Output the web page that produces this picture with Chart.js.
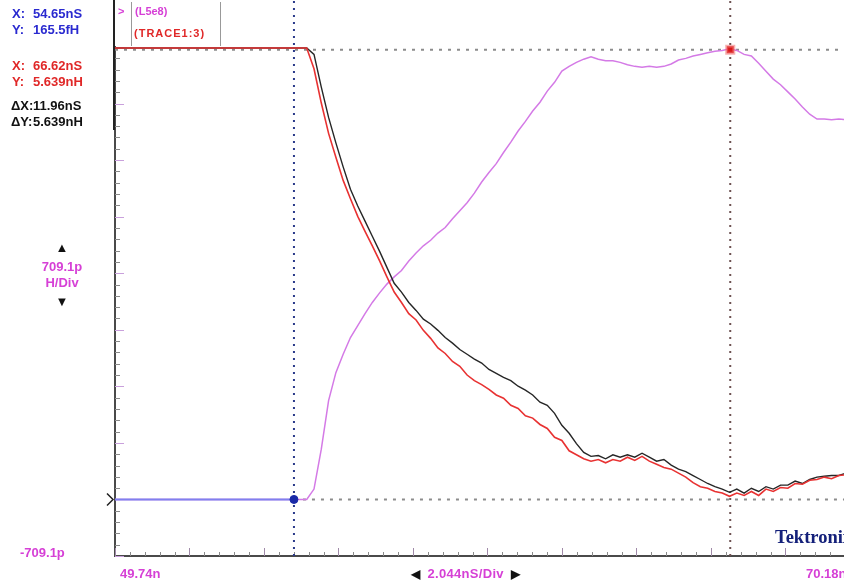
<!DOCTYPE html>
<html>
<head>
<meta charset="utf-8">
<title>TDR inductance - TRACE1:3</title>
<script src="https://cdn.jsdelivr.net/npm/chart.js@4.4.1/dist/chart.umd.min.js"></script>
<style>
  html, body { margin: 0; padding: 0; background: #fff; overflow: hidden; }
  #wrap { position: relative; width: 844px; height: 585px; overflow: hidden; background: #fff; }
  #scope { position: absolute; left: 0; top: 0; }
  .txt {
    position: absolute;
    font-family: "Liberation Sans", Arial, sans-serif;
    font-weight: bold;
    font-size: 13px;
    line-height: 15px;
    white-space: nowrap;
  }
  .blue { color: #2a2ad0; }
  .red { color: #e02828; }
  .blk { color: #111; }
  .mag { color: #d640d6; }
  .line { position: absolute; }
</style>
</head>
<body>
<div id="wrap">
  <canvas id="scope" width="870" height="585"></canvas>

  <!-- cursor readouts -->
  <div class="txt blue" style="left:12px; top:6px">X:</div>
  <div class="txt blue" style="left:33px; top:6px">54.65nS</div>
  <div class="txt blue" style="left:12px; top:22px">Y:</div>
  <div class="txt blue" style="left:33px; top:22px">165.5fH</div>
  <div class="txt red" style="left:12px; top:58px">X:</div>
  <div class="txt red" style="left:33px; top:58px">66.62nS</div>
  <div class="txt red" style="left:12px; top:74px">Y:</div>
  <div class="txt red" style="left:33px; top:74px">5.639nH</div>
  <div class="txt blk" style="left:11px; top:98px">ΔX:</div>
  <div class="txt blk" style="left:33px; top:98px">11.96nS</div>
  <div class="txt blk" style="left:11px; top:114px">ΔY:</div>
  <div class="txt blk" style="left:33px; top:114px">5.639nH</div>
  <div class="line" style="left:113px; top:0; width:2px; height:130px; background:#222"></div>

  <!-- waveform labels -->
  <div class="line" style="left:131px; top:2px; width:1px; height:44px; background:#999"></div>
  <div class="line" style="left:220px; top:2px; width:1px; height:44px; background:#999"></div>
  <div class="txt mag" style="left:118px; top:4px; font-size:11px">&gt;</div>
  <div class="txt mag" style="left:135px; top:4px; font-size:11px">(L5e8)</div>
  <div class="txt red" style="left:134px; top:26px; font-size:11px; letter-spacing:1px">(TRACE1:3)</div>

  <!-- vertical scale -->
  <div class="txt blk" style="left:30px; top:240px; width:64px; text-align:center; font-size:13px">▲</div>
  <div class="txt mag" style="left:30px; top:259px; width:64px; text-align:center">709.1p</div>
  <div class="txt mag" style="left:30px; top:275px; width:64px; text-align:center">H/Div</div>
  <div class="txt blk" style="left:30px; top:294px; width:64px; text-align:center; font-size:13px">▼</div>
  <div class="txt mag" style="left:20px; top:545px">-709.1p</div>

  <!-- horizontal scale -->
  <div class="txt mag" style="left:120px; top:566px">49.74n</div>
  <div class="txt" style="left:411px; top:566px">
    <span class="blk" style="font-size:12px">◀</span>
    <span class="mag" style="letter-spacing:0.3px">&nbsp;2.044nS/Div&nbsp;</span>
    <span class="blk" style="font-size:12px">▶</span>
  </div>
  <div class="txt mag" style="left:806px; top:566px">70.18n</div>

  <div class="txt" style="left:775px; top:527px; font-family:'Liberation Serif', 'DejaVu Serif', serif; font-size:18.5px; line-height:20px; color:#14207a">Tektronix</div>
</div>

<script>
// scope settings
const xStart = 49.74     // ns at left edge
const xPerDiv = 2.044    // ns per division
const xDivs = 10
const yPerDiv = 0.7091   // nH per division (709.1p H/Div)
const yDivsBelow = 1
const yDivsAbove = 8

// sample times (ns)
const timeNs = [49.74,
  55.0, 55.2, 55.4, 55.6, 55.8, 56.0, 56.2, 56.4, 56.6, 56.8,
  57.0, 57.2, 57.4, 57.6, 57.8, 58.0, 58.2, 58.4, 58.6, 58.8,
  59.0, 59.2, 59.4, 59.6, 59.8, 60.0, 60.2, 60.4, 60.6, 60.8,
  61.0, 61.2, 61.4, 61.6, 61.8, 62.0, 62.2, 62.4, 62.6, 62.8,
  63.0, 63.2, 63.4, 63.6, 63.8, 64.0, 64.2, 64.4, 64.6, 64.8,
  65.0, 65.2, 65.4, 65.6, 65.8, 66.0, 66.2, 66.4, 66.6, 66.8,
  67.0, 67.2, 67.4, 67.6, 67.8, 68.0, 68.2, 68.4, 68.6, 68.8,
  69.0, 69.2, 69.4, 69.6, 69.8, 70.0, 70.2]

// TRACE1:3 (red), nH
const trace13 = [5.66,
  5.66, 5.40, 4.97, 4.59, 4.29, 4.00, 3.77, 3.55, 3.36, 3.18,
  2.99, 2.79, 2.60, 2.47, 2.33, 2.25, 2.12, 2.02, 1.90, 1.83,
  1.73, 1.67, 1.56, 1.49, 1.44, 1.38, 1.31, 1.27, 1.18, 1.14,
  1.05, 1.02, 0.94, 0.89, 0.78, 0.74, 0.61, 0.56, 0.51, 0.48,
  0.50, 0.46, 0.50, 0.48, 0.53, 0.49, 0.54, 0.48, 0.44, 0.40,
  0.38, 0.33, 0.28, 0.21, 0.16, 0.14, 0.10, 0.08, 0.04, 0.08,
  0.05, 0.10, 0.05, 0.13, 0.10, 0.15, 0.14, 0.20, 0.19, 0.24,
  0.25, 0.28, 0.26, 0.30, 0.31, 0.33, 0.33]

// reference trace (black), nH
const traceRef = [5.66,
  5.66, 5.58, 5.17, 4.79, 4.47, 4.17, 3.89, 3.68, 3.49, 3.30,
  3.11, 2.91, 2.71, 2.60, 2.47, 2.37, 2.26, 2.20, 2.12, 2.03,
  1.96, 1.88, 1.82, 1.76, 1.71, 1.63, 1.58, 1.53, 1.49, 1.42,
  1.37, 1.31, 1.22, 1.18, 1.08, 0.93, 0.83, 0.70, 0.59, 0.54,
  0.55, 0.51, 0.56, 0.53, 0.56, 0.53, 0.58, 0.53, 0.48, 0.50,
  0.43, 0.38, 0.35, 0.30, 0.25, 0.20, 0.16, 0.13, 0.09, 0.13,
  0.08, 0.14, 0.10, 0.16, 0.13, 0.18, 0.18, 0.23, 0.20, 0.25,
  0.28, 0.29, 0.30, 0.30, 0.33, 0.34, 0.34]

// L5e8 (magenta), nH
const l5e8 = [0,
  0.00, 0.13, 0.63, 1.24, 1.59, 1.82, 2.03, 2.18, 2.33, 2.47,
  2.59, 2.70, 2.79, 2.87, 2.99, 3.09, 3.18, 3.25, 3.34, 3.41,
  3.52, 3.62, 3.72, 3.84, 3.98, 4.10, 4.21, 4.35, 4.48, 4.62,
  4.74, 4.87, 4.98, 5.12, 5.23, 5.37, 5.43, 5.48, 5.52, 5.55,
  5.52, 5.50, 5.50, 5.48, 5.45, 5.43, 5.42, 5.43, 5.42, 5.43,
  5.46, 5.51, 5.53, 5.56, 5.58, 5.60, 5.62, 5.63, 5.65, 5.63,
  5.58, 5.56, 5.47, 5.37, 5.27, 5.20, 5.11, 5.02, 4.92, 4.83,
  4.77, 4.77, 4.76, 4.77, 4.76, 4.77, 4.77]

// cursors
const cursorA = { x: 54.65, y: 0.0000001655 }
const cursorB = { x: 66.62, y: 5.639 }

const xMin = xStart
const xMax = xStart + xDivs * xPerDiv
const yMin = -yDivsBelow * yPerDiv
const yMax = yDivsAbove * yPerDiv
const yAboveScreen = yMax + 0.6

const toPoints = (xs, ys) => xs.map((x, i) => ({ x: x, y: ys[i] }))

// inside tick marks + ground marker, placed with the chart's own scales
const scopeTicks = {
  id: "scopeTicks",
  beforeDatasetsDraw(chart) {
    const { ctx, chartArea } = chart
    const xs = chart.scales.x
    const ys = chart.scales.y
    ctx.save()
    ctx.lineWidth = 1

    for (let i = 0; i <= (yDivsBelow + yDivsAbove) * 5; i++) {
      const py = Math.round(ys.getPixelForValue(yMin + i * yPerDiv / 5)) + 0.5
      const major = i % 5 === 0
      ctx.strokeStyle = major ? "#c9a0dc" : "#8a8a8a"
      ctx.beginPath()
      ctx.moveTo(chartArea.left, py)
      ctx.lineTo(chartArea.left + (major ? 9 : 5), py)
      ctx.stroke()
    }

    for (let i = 0; i <= xDivs * 5; i++) {
      const px = Math.round(xs.getPixelForValue(xMin + i * xPerDiv / 5)) + 0.5
      const major = i % 5 === 0
      ctx.strokeStyle = major ? "#a08aa8" : "#8a8a8a"
      ctx.beginPath()
      ctx.moveTo(px, chartArea.bottom)
      ctx.lineTo(px, chartArea.bottom - (major ? 8 : 4))
      ctx.stroke()
    }

    // ground reference chevron
    const gy = ys.getPixelForValue(0)
    ctx.strokeStyle = "#222"
    ctx.lineWidth = 1.5
    ctx.beginPath()
    ctx.moveTo(chartArea.left - 8, gy - 6)
    ctx.lineTo(chartArea.left - 2, gy)
    ctx.lineTo(chartArea.left - 8, gy + 6)
    ctx.stroke()
    ctx.restore()
  }
}

const lineDefaults = { pointRadius: 0, tension: 0, fill: false }

new Chart(document.getElementById("scope").getContext("2d"), {
  type: "line",
  data: {
    datasets: [
      {
        ...lineDefaults,
        label: "cursor 2",
        data: [cursorB],
        showLine: false,
        pointRadius: 5,
        pointStyle: "rect",
        pointBackgroundColor: "#d81818",
        pointBorderColor: "rgba(240,110,110,0.55)",
        pointBorderWidth: 3,
        clip: false
      },
      {
        ...lineDefaults,
        label: "cursor 1",
        data: [cursorA],
        showLine: false,
        pointRadius: 4,
        pointBackgroundColor: "#1a2aa8",
        pointBorderColor: "#1a2aa8",
        clip: false
      },
      {
        ...lineDefaults,
        label: "cursor 1 level",
        data: [{ x: xMin, y: cursorA.y }, { x: cursorA.x, y: cursorA.y }],
        borderColor: "#8080ee",
        borderWidth: 2
      },
      {
        ...lineDefaults,
        label: "TRACE1:3",
        data: toPoints(timeNs, trace13),
        borderColor: "#e83232",
        borderWidth: 1.6
      },
      {
        ...lineDefaults,
        label: "reference",
        data: toPoints(timeNs, traceRef),
        borderColor: "#262626",
        borderWidth: 1.4
      },
      {
        ...lineDefaults,
        label: "L5e8",
        data: toPoints(timeNs, l5e8),
        borderColor: "#d47ae6",
        borderWidth: 1.5
      },
      {
        ...lineDefaults,
        label: "cursor 1 x",
        data: [{ x: cursorA.x, y: yMin }, { x: cursorA.x, y: yAboveScreen }],
        borderColor: "#2a3a8a",
        borderWidth: 2,
        borderDash: [2, 5],
        clip: false
      },
      {
        ...lineDefaults,
        label: "cursor 2 x",
        data: [{ x: cursorB.x, y: yMin }, { x: cursorB.x, y: yAboveScreen }],
        borderColor: "#6e5252",
        borderWidth: 2,
        borderDash: [2, 5],
        clip: false
      },
      {
        ...lineDefaults,
        label: "cursor 1 y",
        data: [{ x: cursorA.x, y: cursorA.y }, { x: xMax, y: cursorA.y }],
        borderColor: "#8c8c8c",
        borderWidth: 2,
        borderDash: [3, 6]
      },
      {
        ...lineDefaults,
        label: "cursor 2 y",
        data: [{ x: xMin, y: cursorB.y }, { x: xMax, y: cursorB.y }],
        borderColor: "#8c8c8c",
        borderWidth: 2,
        borderDash: [3, 6]
      }
    ]
  },
  options: {
    responsive: false,
    animation: false,
    events: [],
    layout: { padding: { top: 47, right: 10, left: 0, bottom: 0 } },
    plugins: {
      legend: { display: false },
      tooltip: { enabled: false }
    },
    scales: {
      x: {
        type: "linear",
        min: xMin,
        max: xMax,
        grid: { display: false, drawTicks: false },
        border: { display: true, color: "#4a4a4a", width: 2 },
        ticks: { display: false },
        afterFit: (scale) => { scale.height = 29 }
      },
      y: {
        type: "linear",
        min: yMin,
        max: yMax,
        grid: { display: false, drawTicks: false },
        border: { display: true, color: "#4a4a4a", width: 2 },
        ticks: { display: false },
        afterFit: (scale) => { scale.width = 115 }
      }
    }
  },
  plugins: [scopeTicks]
})
</script>
</body>
</html>
